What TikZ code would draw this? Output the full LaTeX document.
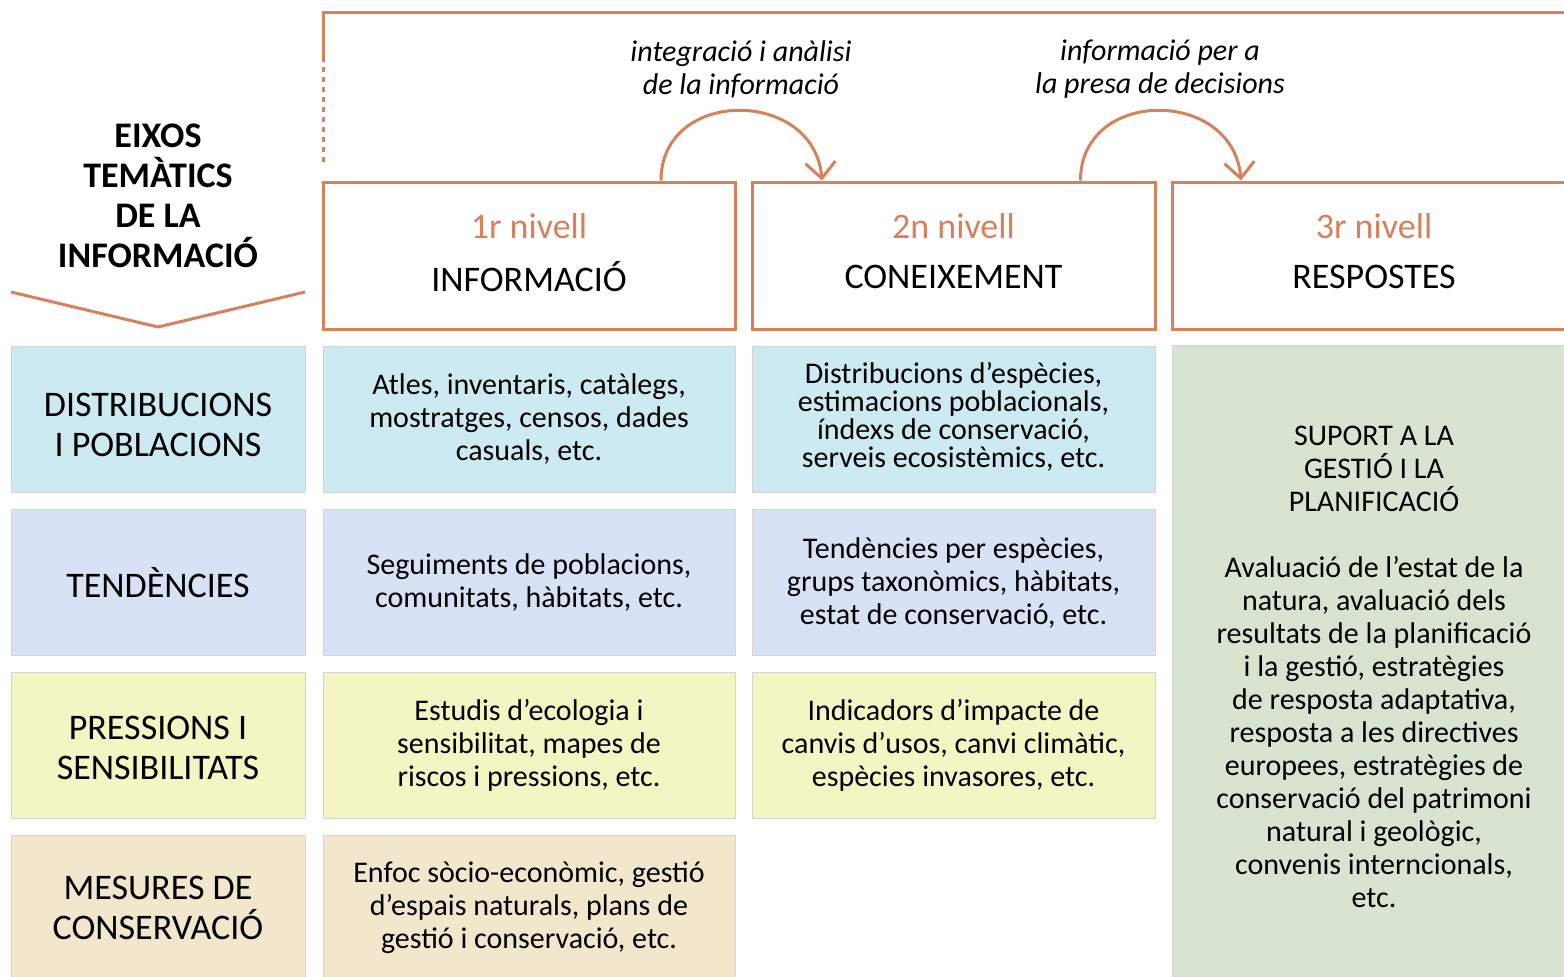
\documentclass[tikz,border=0pt]{standalone}
\usepackage{fontspec}
\setmainfont{Carlito}
\usetikzlibrary{arrows.meta}
\definecolor{orng}{RGB}{215,128,92}
\definecolor{cblue}{RGB}{205,233,242}
\definecolor{cpblue}{RGB}{215,227,244}
\definecolor{cyel}{RGB}{243,245,194}
\definecolor{cbeige}{RGB}{240,231,205}
\definecolor{cgreen}{RGB}{216,228,207}
\begin{document}
\begin{tikzpicture}[x=1pt,y=-1pt,
  tile/.style={draw=black!17, line width=1pt, inner sep=0pt, align=center,
    font=\fontsize{30}{33}\selectfont},
  rowlab/.style={tile, font=\fontsize{36}{40}\selectfont},
  rowtext/.style={align=center, font=\fontsize{36}{40}\selectfont},
  c1/.style={minimum width=294pt},
  c2/.style={minimum width=412pt},
  c3/.style={minimum width=403pt},
  rh/.style={minimum height=146pt},
  lev/.style={draw=orng, line width=3pt, fill=white, minimum height=147pt, inner sep=0pt},
  levnum/.style={text=orng, font=\fontsize{36}{40}\selectfont},
  levname/.style={font=\fontsize{36}{40}\selectfont},
  lab/.style={align=center, font=\fontsize{30}{33}\selectfont\itshape},
  oline/.style={draw=orng, line width=3pt},
  arc/.style={oline, -{Straight Barb[length=16pt,width=30pt]}}
]
\useasboundingbox (0,0) rectangle (1564,977);
\clip (0,0) rectangle (1564,977);

% top frame
\draw[oline] (323,62) -- (323,12) -- (1580,12);
\draw[oline, dash pattern=on 5pt off 5pt] (323,67) -- (323,162);

% title and chevron
\node[align=center, font=\fontsize{36}{40}\selectfont\bfseries] (title) at (158,196) {EIXOS\\TEMÀTICS\\DE LA\\INFORMACIÓ};
\draw[oline] (11,292) -- (158,327) -- (305,292);

% level boxes
\node[lev, minimum width=412pt] (lev1) at (529,255.5) {};
\node[lev, minimum width=403pt] (lev2) at (953.5,255.5) {};
\node[lev, minimum width=404pt] (lev3) at (1374,255.5) {};
\node[levnum] (n1) at ([yshift=29.5pt]lev1.center) {1r nivell};
\node[levname] (t1) at ([yshift=-21pt]lev1.center) {INFORMACIÓ};
\node[levnum] (n2) at ([yshift=29.5pt]lev2.center) {2n nivell};
\node[levname] (t2) at ([yshift=-21pt]lev2.center) {CONEIXEMENT};
\node[levnum] (n3) at ([yshift=29.5pt]lev3.center) {3r nivell};
\node[levname] (t3) at ([yshift=-21pt]lev3.center) {RESPOSTES};

% arcs
\draw[arc] ([xshift=132pt]lev1.north) .. controls +(0,-93) and +(-8,-93) .. ([xshift=-131.5pt]lev2.north);
\draw[arc] ([xshift=-76pt]lev2.north east) .. controls +(0,-93) and +(-8,-93) .. ([xshift=-133pt]lev3.north);
\node[lab] (lab1) at (741,69) {integració i anàlisi\\de la informació};
\node[lab] (lab2) at (1160,69) {informació per a\\la presa de decisions};

% row 1
\node[tile, c1, rh, fill=cblue] (r1c1) at (158,419) {};
\node[rowtext] (r1c1t) at ([yshift=-6pt]r1c1.center) {DISTRIBUCIONS\\I POBLACIONS};
\node[tile, c2, rh, fill=cblue] (r1c2) at (529,419) {Atles, inventaris, catàlegs,\\mostratges, censos, dades\\casuals, etc.};
\node[tile, c3, rh, fill=cblue] (r1c3) at (953.5,419) {};
\node[align=center, font=\fontsize{30}{28}\selectfont] (r1c3t) at ([yshift=2.5pt]r1c3.center) {Distribucions d’espècies,\\estimacions poblacionals,\\índexs de conservació,\\serveis ecosistèmics, etc.};
% row 2
\node[rowlab, c1, rh, fill=cpblue] (r2c1) at (158,582.5) {TENDÈNCIES};
\node[tile, c2, rh, fill=cpblue] (r2c2) at (529,582.5) {Seguiments de poblacions,\\comunitats, hàbitats, etc.};
\node[tile, c3, rh, fill=cpblue] (r2c3) at (953.5,582.5) {Tendències per espècies,\\grups taxonòmics, hàbitats,\\estat de conservació, etc.};
% row 3
\node[tile, c1, rh, fill=cyel] (r3c1) at (158,745) {};
\node[rowtext] (r3c1t) at ([yshift=-3pt]r3c1.center) {PRESSIONS I\\SENSIBILITATS};
\node[tile, c2, rh, fill=cyel] (r3c2) at (529,745) {Estudis d’ecologia i\\sensibilitat, mapes de\\riscos i pressions, etc.};
\node[tile, c3, rh, fill=cyel] (r3c3) at (953.5,745) {Indicadors d’impacte de\\canvis d’usos, canvi climàtic,\\espècies invasores, etc.};
% row 4
\node[rowlab, c1, rh, fill=cbeige] (r4c1) at (158,908) {MESURES DE\\CONSERVACIÓ};
\node[tile, c2, rh, fill=cbeige] (r4c2) at (529,908) {Enfoc sòcio-econòmic, gestió\\d’espais naturals, plans de\\gestió i conservació, etc.};
% responses
\node[tile, minimum width=404pt, minimum height=644pt, fill=cgreen] (resp) at (1374,667) {SUPORT A LA\\GESTIÓ I LA\\PLANIFICACIÓ\\[33pt]Avaluació de l’estat de la\\natura, avaluació dels\\resultats de la planificació\\i la gestió, estratègies\\de resposta adaptativa,\\resposta a les directives\\europees, estratègies de\\conservació del patrimoni\\natural i geològic,\\convenis interncionals,\\etc.};
\end{tikzpicture}
\end{document}
